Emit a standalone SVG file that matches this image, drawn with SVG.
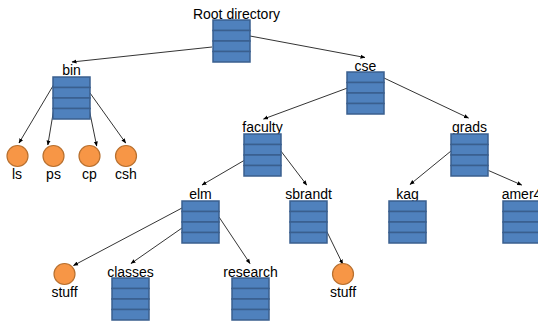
<svg xmlns="http://www.w3.org/2000/svg" xmlns:xlink="http://www.w3.org/1999/xlink" width="538" height="324" viewBox="0 0 538 324">
  <style>
    .lbl { font-family: "Liberation Sans", Arial, sans-serif; font-size: 14px; fill: #000; text-anchor: middle; }
    .row { fill: #4F81BD; stroke: #3A5F8E; stroke-width: 1.5; }
    .file { fill: #F79646; stroke: #B8702F; stroke-width: 1.2; }
    .edge { stroke: #000; stroke-width: 0.8; fill: none; marker-end: url(#tip); }
  </style>
  <defs>
    <marker id="tip" viewBox="0 0 10 10" refX="9" refY="5" markerWidth="5" markerHeight="5" markerUnits="userSpaceOnUse" orient="auto">
      <path d="M0,1 L10,5 L0,9 Z" fill="#000"/>
    </marker>
    <!-- directory block: four stacked entries -->
    <g id="dir">
      <rect class="row" x="0" y="0" width="37" height="10.5"/>
      <rect class="row" x="0" y="10.5" width="37" height="10.5"/>
      <rect class="row" x="0" y="21" width="37" height="10.5"/>
      <rect class="row" x="0" y="31.5" width="37" height="10.5"/>
    </g>
  </defs>

  <g id="connectors">
    <line class="edge" x1="212" y1="47" x2="72" y2="62"/>
    <line class="edge" x1="250" y1="36" x2="365" y2="57.5"/>
    <line class="edge" x1="53.5" y1="85" x2="19" y2="143"/>
    <line class="edge" x1="54.5" y1="105" x2="47.8" y2="145"/>
    <line class="edge" x1="89.3" y1="110" x2="96.7" y2="146"/>
    <line class="edge" x1="90" y1="93" x2="125.7" y2="143"/>
    <line class="edge" x1="347.5" y1="88" x2="263.5" y2="119"/>
    <line class="edge" x1="384" y1="78" x2="468.5" y2="118"/>
    <line class="edge" x1="244" y1="160.5" x2="202" y2="185"/>
    <line class="edge" x1="280.5" y1="150.5" x2="306.7" y2="185"/>
    <line class="edge" x1="451" y1="151" x2="410" y2="184.5"/>
    <line class="edge" x1="488.5" y1="170.5" x2="521.7" y2="185"/>
    <line class="edge" x1="182" y1="208" x2="73.5" y2="265.5"/>
    <line class="edge" x1="182" y1="228" x2="131" y2="263.5"/>
    <line class="edge" x1="219" y1="217" x2="250" y2="263.5"/>
    <line class="edge" x1="326.8" y1="231.5" x2="342.7" y2="264"/>
  </g>

  <g id="root">
    <text class="lbl" x="236.5" y="18.5">Root directory</text>
    <use href="#dir" xlink:href="#dir" x="213" y="20"/>
  </g>
  <g id="bin">
    <text class="lbl" x="71.5" y="75">bin</text>
    <use href="#dir" xlink:href="#dir" x="53" y="77"/>
  </g>
  <g id="cse">
    <text class="lbl" x="365.5" y="70.5">cse</text>
    <use href="#dir" xlink:href="#dir" x="347" y="72"/>
  </g>
  <g id="faculty">
    <text class="lbl" x="262.5" y="132">faculty</text>
    <use href="#dir" xlink:href="#dir" x="244" y="134"/>
  </g>
  <g id="grads">
    <text class="lbl" x="469.5" y="132">grads</text>
    <use href="#dir" xlink:href="#dir" x="451" y="134"/>
  </g>
  <g id="elm">
    <text class="lbl" x="200.5" y="199">elm</text>
    <use href="#dir" xlink:href="#dir" x="182" y="201"/>
  </g>
  <g id="sbrandt">
    <text class="lbl" x="308.5" y="199">sbrandt</text>
    <use href="#dir" xlink:href="#dir" x="290" y="201"/>
  </g>
  <g id="kag">
    <text class="lbl" x="407.5" y="199">kag</text>
    <use href="#dir" xlink:href="#dir" x="389" y="201"/>
  </g>
  <g id="amer4">
    <text class="lbl" x="521.5" y="199">amer4</text>
    <use href="#dir" xlink:href="#dir" x="503" y="201"/>
  </g>
  <g id="classes">
    <text class="lbl" x="130.5" y="276.5">classes</text>
    <use href="#dir" xlink:href="#dir" x="112" y="278"/>
  </g>
  <g id="research">
    <text class="lbl" x="250.5" y="276.5">research</text>
    <use href="#dir" xlink:href="#dir" x="232" y="278"/>
  </g>

  <g id="ls">
    <circle class="file" cx="17.5" cy="156" r="10.5"/>
    <text class="lbl" x="17" y="178.5">ls</text>
  </g>
  <g id="ps">
    <circle class="file" cx="53.5" cy="156" r="10.5"/>
    <text class="lbl" x="53.5" y="178.5">ps</text>
  </g>
  <g id="cp">
    <circle class="file" cx="89.5" cy="156" r="10.5"/>
    <text class="lbl" x="89.5" y="178.5">cp</text>
  </g>
  <g id="csh">
    <circle class="file" cx="126" cy="156" r="10.5"/>
    <text class="lbl" x="126" y="178.5">csh</text>
  </g>
  <g id="elm-stuff">
    <circle class="file" cx="64.5" cy="274" r="10.5"/>
    <text class="lbl" x="64.5" y="297">stuff</text>
  </g>
  <g id="sbrandt-stuff">
    <circle class="file" cx="343" cy="274" r="10.5"/>
    <text class="lbl" x="343" y="297">stuff</text>
  </g>
</svg>
